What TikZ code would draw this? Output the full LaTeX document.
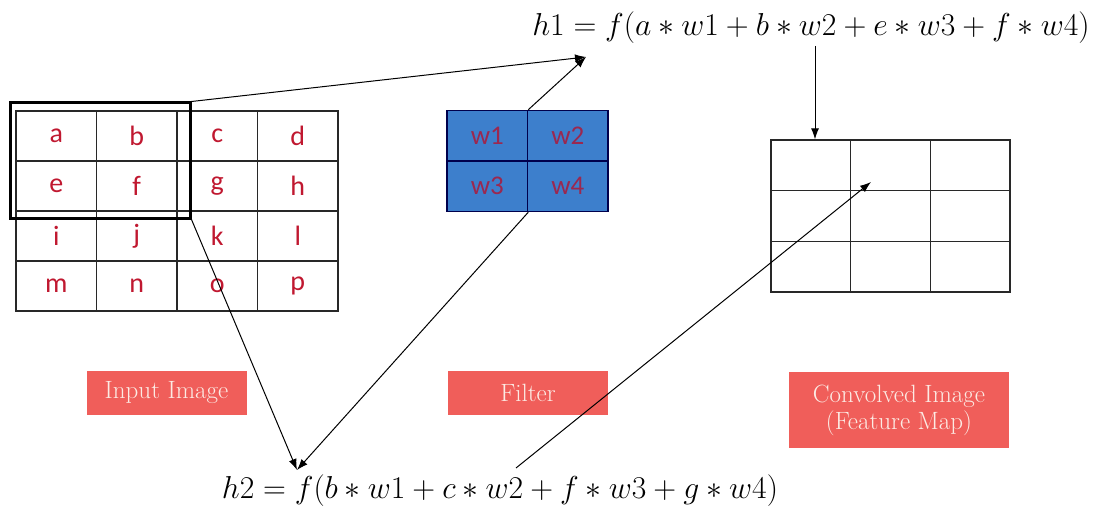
\RequirePackage{fix-cm}
\documentclass[tikz,border=0pt]{standalone}
\usepackage{fontspec}
\newfontfamily\carfont{Carlito}
\usetikzlibrary{arrows.meta}
\definecolor{cellred}{RGB}{192,24,48}
\definecolor{filtblue}{RGB}{61,127,204}
\definecolor{wred}{RGB}{155,40,80}
\definecolor{labred}{RGB}{240,94,90}
\definecolor{labtext}{RGB}{252,235,228}
\definecolor{gridc}{RGB}{40,40,40}
\tikzset{
  incell/.style={draw=gridc, line width=1.3pt, minimum width=80.5pt, minimum height=50pt, inner sep=0pt, font=\carfont\fontsize{28}{32}\selectfont, text=cellred},
  fcell/.style={draw=black!70!blue, line width=1.5pt, fill=filtblue, minimum width=80.5pt, minimum height=50.5pt, inner sep=0pt, font=\carfont\fontsize{27}{30}\selectfont, text=wred},
  mcell/.style={draw=gridc, line width=1.3pt, minimum width=79.7pt, minimum height=50.7pt, inner sep=0pt},
  lab/.style={fill=labred, text=labtext, inner sep=0pt, font=\fontsize{25}{27}\selectfont, align=center},
  conn/.style={line width=1pt, -{Latex[length=11pt,width=8pt]}},
  formula/.style={inner sep=0pt, font=\fontsize{31.7}{36}\selectfont}
}
\begin{document}
\begin{tikzpicture}[x=1pt,y=-1pt]
\useasboundingbox (0,0) rectangle (1095,508);
% input grid
\foreach \t [count=\k from 0] in {a,b,c,d,e,f,g,h,i,j,k,l,m,n,o,p}{
  \pgfmathtruncatemacro{\col}{mod(\k,4)}
  \pgfmathtruncatemacro{\row}{div(\k,4)}
  \node[incell] (in-\t) at ({16+40.25+80.5*\col},{111+25+50*\row}) {\t};
}
% window
\node[draw=black, line width=3pt, minimum width=180pt, minimum height=115pt, inner sep=0pt] (win) at (100,160.5) {};
% filter
\foreach \t [count=\k from 0] in {w1,w2,w3,w4}{
  \pgfmathtruncatemacro{\col}{mod(\k,2)}
  \pgfmathtruncatemacro{\row}{div(\k,2)}
  \node[fcell] (f-\t) at ({447+40.25+80.5*\col},{110.5+25.25+50.5*\row}) {\t};
}
% feature map
\foreach \r in {1,2,3}{
  \foreach \c in {1,2,3}{
    \node[mcell] (m-\r-\c) at ({771+39.85+79.7*(\c-1)},{140+25.35+50.7*(\r-1)}) {};
  }
}
% labels
\node[lab, minimum width=160pt, minimum height=44pt] (l-in) at (166.5,393) {Input Image};
\node[lab, minimum width=160pt, minimum height=44pt] (l-f) at (528,393) {Filter};
\node[lab, minimum width=220pt, minimum height=76pt] (l-m) at (899,410) {Convolved Image\\(Feature Map)};
% formulas
\node[formula] (h1) at (811,28) {$h1 = f(a \ast w1 + b \ast w2 + e \ast w3 + f \ast w4)$};
\node[formula] (h2) at (500,491) {$h2 = f(b \ast w1 + c \ast w2 + f \ast w3 + g \ast w4)$};
% connectors
\coordinate (t1) at (586,57);
\coordinate (t2) at (297,470);
\coordinate (t3) at (871,182);
\coordinate (s3) at (516,468);
\draw[conn] (win.north east) -- (t1);
\draw[conn] (f-w1.north east) -- (t1);
\draw[conn] (815,46) -- (m-1-1.north -| 815,0);
\draw[conn] (win.south east) -- (t2);
\draw[conn] (f-w3.south east) -- (t2);
\draw[conn] (s3) -- (t3);
\end{tikzpicture}
\end{document}
